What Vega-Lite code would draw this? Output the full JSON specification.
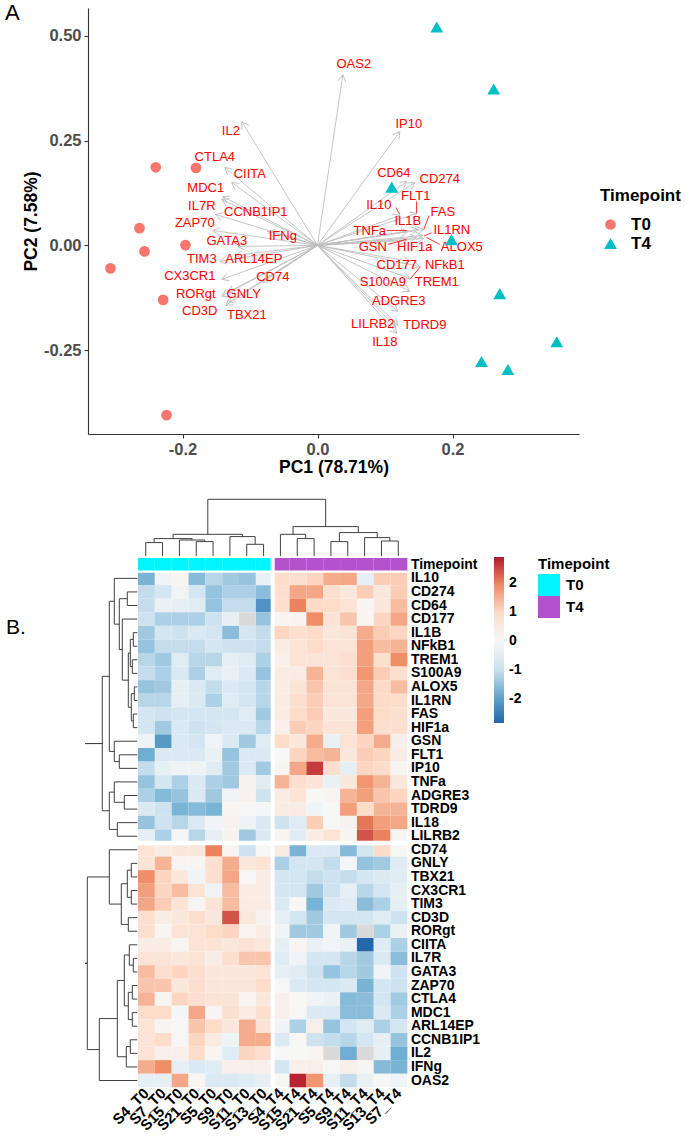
{
"$schema": "https://vega.github.io/schema/vega-lite/v6.json",
"padding": {"left": 5, "top": 2, "right": 0, "bottom": 0},
"autosize": {"type": "pad"},
"config": {
  "font": "Liberation Sans",
  "view": {"stroke": null},
  "locale": {"number": {"decimal": ".", "thousands": ",", "grouping": [3], "currency": ["$", ""], "minus": "-"}}
},
"datasets": {
  "scores": [
    {"tp":"T0","x":-0.2396,"y":0.1864},{"tp":"T0","x":-0.180,"y":0.185},{"tp":"T0","x":-0.2637,"y":0.0412},{"tp":"T0","x":-0.2563,"y":-0.0143},
    {"tp":"T0","x":-0.1956,"y":0.0007},{"tp":"T0","x":-0.3067,"y":-0.0548},{"tp":"T0","x":-0.2287,"y":-0.130},{"tp":"T0","x":-0.2237,"y":-0.405},
    {"tp":"T4","x":0.1767,"y":0.521},{"tp":"T4","x":0.261,"y":0.373},{"tp":"T4","x":0.110,"y":0.139},{"tp":"T4","x":0.1985,"y":0.0135},
    {"tp":"T4","x":0.270,"y":-0.115},{"tp":"T4","x":0.3545,"y":-0.230},{"tp":"T4","x":0.243,"y":-0.277},{"tp":"T4","x":0.282,"y":-0.296}
  ],
  "load": [
    {"g":"IL2","x":-0.1121,"y":0.2952,"tx":-0.1284,"ty":0.2738},
    {"g":"CTLA4","x":-0.1373,"y":0.1857,"tx":-0.1521,"ty":0.2119},
    {"g":"CIITA","x":-0.1270,"y":0.1500,"tx":-0.1003,"ty":0.1714},
    {"g":"MDC1","x":-0.1403,"y":0.1167,"tx":-0.1655,"ty":0.1381},
    {"g":"IL7R","x":-0.1418,"y":0.1095,"tx":-0.1714,"ty":0.0929},
    {"g":"CCNB1IP1","x":-0.1507,"y":0.0738,"tx":-0.0914,"ty":0.0786},
    {"g":"ZAP70","x":-0.1551,"y":0.0357,"tx":-0.1818,"ty":0.0524},
    {"g":"IFNg","x":-0.0736,"y":0.0333,"tx":-0.0514,"ty":0.0214},
    {"g":"GATA3","x":-0.1181,"y":-0.0024,"tx":-0.1344,"ty":0.0095},
    {"g":"TIM3","x":-0.1447,"y":-0.0381,"tx":-0.1714,"ty":-0.0333},
    {"g":"ARL14EP","x":-0.1210,"y":-0.0238,"tx":-0.0944,"ty":-0.0333},
    {"g":"CX3CR1","x":-0.1418,"y":-0.0810,"tx":-0.1892,"ty":-0.0738},
    {"g":"CD74","x":-0.0810,"y":-0.0881,"tx":-0.0662,"ty":-0.0762},
    {"g":"RORgt","x":-0.1418,"y":-0.1214,"tx":-0.1803,"ty":-0.1167},
    {"g":"GNLY","x":-0.1329,"y":-0.1119,"tx":-0.1092,"ty":-0.1167},
    {"g":"CD3D","x":-0.1359,"y":-0.1429,"tx":-0.1744,"ty":-0.1571},
    {"g":"TBX21","x":-0.1314,"y":-0.1357,"tx":-0.1047,"ty":-0.1667},
    {"g":"OAS2","x":0.0375,"y":0.4071,"tx":0.0538,"ty":0.4333},
    {"g":"IP10","x":0.1219,"y":0.2714,"tx":0.1353,"ty":0.2905},
    {"g":"CD64","x":0.1323,"y":0.1524,"tx":0.1130,"ty":0.1738},
    {"g":"CD274","x":0.1441,"y":0.1500,"tx":0.1812,"ty":0.1595},
    {"g":"FLT1","x":0.1471,"y":0.0762,"tx":0.1456,"ty":0.1190},
    {"g":"IL10","x":0.1219,"y":0.0714,"tx":0.0908,"ty":0.0952},
    {"g":"FAS","x":0.1575,"y":0.0381,"tx":0.1856,"ty":0.0786},
    {"g":"IL1B","x":0.1486,"y":0.0381,"tx":0.1338,"ty":0.0571},
    {"g":"IL1RN","x":0.1560,"y":0.0238,"tx":0.1990,"ty":0.0357},
    {"g":"TNFa","x":0.1338,"y":0.0333,"tx":0.0775,"ty":0.0333},
    {"g":"GSN","x":0.1323,"y":0.0119,"tx":0.0819,"ty":-0.0048},
    {"g":"HIF1a","x":0.1471,"y":0.0190,"tx":0.1441,"ty":-0.0048},
    {"g":"ALOX5","x":0.1575,"y":0.0167,"tx":0.2138,"ty":-0.0048},
    {"g":"CD177","x":0.1367,"y":-0.0381,"tx":0.1175,"ty":-0.0476},
    {"g":"NFkB1","x":0.1516,"y":-0.0500,"tx":0.1886,"ty":-0.0476},
    {"g":"S100A9","x":0.1367,"y":-0.0786,"tx":0.0967,"ty":-0.0881},
    {"g":"TREM1","x":0.1367,"y":-0.1095,"tx":0.1767,"ty":-0.0881},
    {"g":"ADGRE3","x":0.1190,"y":-0.1571,"tx":0.1204,"ty":-0.1333},
    {"g":"LILRB2","x":0.1160,"y":-0.1952,"tx":0.0819,"ty":-0.1881},
    {"g":"TDRD9","x":0.1190,"y":-0.1905,"tx":0.1590,"ty":-0.1905},
    {"g":"IL18","x":0.1175,"y":-0.2095,"tx":0.0997,"ty":-0.2310}
  ],
  "lead": [
    {"x":0.1467,"y":0.1048,"x2":0.1467,"y2":0.0771},
    {"x":0.1160,"y":0.0905,"x2":0.1219,"y2":0.0738},
    {"x":0.1654,"y":0.0714,"x2":0.1575,"y2":0.0381},
    {"x":0.1026,"y":0.0357,"x2":0.1323,"y2":0.0357},
    {"x":0.1575,"y":0.0222,"x2":0.1689,"y2":0.0302},
    {"x":0.1043,"y":0.0024,"x2":0.1316,"y2":0.0143},
    {"x":0.1614,"y":0.0190,"x2":0.1812,"y2":0.0024},
    {"x":0.1367,"y":-0.0810,"x2":0.1526,"y2":-0.0507},
    {"x":-0.1245,"y":0.0081,"x2":-0.1145,"y2":-0.0019}
  ],
  "heat": [
    {"g":"IL10","S4_T0":-1.7,"S7_T0":-0.15,"S15_T0":0.15,"S21_T0":-1.6,"S5_T0":-1.15,"S9_T0":-1.35,"S11_T0":-1.45,"S13_T0":-0.3,"S4_T4":0.95,"S15_T4":0.85,"S21_T4":1.05,"S5_T4":1.55,"S9_T4":1.6,"S11_T4":-0.4,"S13_T4":1.15,"S7_T4":1.15},
    {"g":"CD274","S4_T0":-1.05,"S7_T0":-0.85,"S15_T0":-0.15,"S21_T0":-0.85,"S5_T0":-1.45,"S9_T0":-1.25,"S11_T0":-1.25,"S13_T0":-1.55,"S4_T4":0.85,"S15_T4":1.6,"S21_T4":1.6,"S5_T4":0.85,"S9_T4":0.55,"S11_T4":1.15,"S13_T4":0.55,"S7_T4":1.15},
    {"g":"CD64","S4_T0":-1.05,"S7_T0":-0.3,"S15_T0":-0.4,"S21_T0":-0.5,"S5_T0":-1.45,"S9_T0":-1.05,"S11_T0":-1.05,"S13_T0":-2.2,"S4_T4":0.85,"S15_T4":2.0,"S21_T4":0.95,"S5_T4":0.95,"S9_T4":0.7,"S11_T4":0.15,"S13_T4":0.55,"S7_T4":1.35},
    {"g":"CD177","S4_T0":-0.95,"S7_T0":-1.25,"S15_T0":-1.25,"S21_T0":-1.25,"S5_T0":-0.95,"S9_T0":-0.4,"S11_T0":null,"S13_T0":-1.45,"S4_T4":0.15,"S15_T4":0.15,"S21_T4":1.9,"S5_T4":0.7,"S9_T4":1.25,"S11_T4":0.15,"S13_T4":1.05,"S7_T4":1.6},
    {"g":"IL1B","S4_T0":-1.35,"S7_T0":-0.85,"S15_T0":-0.95,"S21_T0":-0.7,"S5_T0":-0.85,"S9_T0":-1.55,"S11_T0":-0.85,"S13_T0":-1.05,"S4_T4":1.05,"S15_T4":0.85,"S21_T4":0.95,"S5_T4":0.55,"S9_T4":0.7,"S11_T4":1.55,"S13_T4":1.15,"S7_T4":1.05},
    {"g":"NFkB1","S4_T0":-1.45,"S7_T0":-1.05,"S15_T0":-1.05,"S21_T0":-1.05,"S5_T0":-0.85,"S9_T0":-0.95,"S11_T0":-0.95,"S13_T0":-1.05,"S4_T4":0.4,"S15_T4":0.7,"S21_T4":0.95,"S5_T4":0.7,"S9_T4":0.7,"S11_T4":1.7,"S13_T4":1.35,"S7_T4":1.45},
    {"g":"TREM1","S4_T0":-1.15,"S7_T0":-1.35,"S15_T0":-0.55,"S21_T0":-1.15,"S5_T0":-1.15,"S9_T0":-0.4,"S11_T0":-0.55,"S13_T0":-1.25,"S4_T4":0.3,"S15_T4":0.7,"S21_T4":0.7,"S5_T4":0.7,"S9_T4":0.85,"S11_T4":1.7,"S13_T4":0.85,"S7_T4":1.9},
    {"g":"S100A9","S4_T0":-1.05,"S7_T0":-1.25,"S15_T0":-0.7,"S21_T0":-1.25,"S5_T0":-0.55,"S9_T0":-0.35,"S11_T0":-0.7,"S13_T0":-1.45,"S4_T4":0.4,"S15_T4":0.4,"S21_T4":1.45,"S5_T4":0.7,"S9_T4":0.85,"S11_T4":1.8,"S13_T4":1.15,"S7_T4":0.85},
    {"g":"ALOX5","S4_T0":-1.45,"S7_T0":-1.35,"S15_T0":-0.4,"S21_T0":-0.7,"S5_T0":-1.05,"S9_T0":-0.7,"S11_T0":-0.85,"S13_T0":-1.15,"S4_T4":0.4,"S15_T4":0.7,"S21_T4":1.25,"S5_T4":0.7,"S9_T4":0.7,"S11_T4":1.6,"S13_T4":0.95,"S7_T4":1.35},
    {"g":"IL1RN","S4_T0":-1.15,"S7_T0":-1.15,"S15_T0":-0.4,"S21_T0":-0.7,"S5_T0":-1.25,"S9_T0":-0.55,"S11_T0":-0.85,"S13_T0":-1.15,"S4_T4":0.4,"S15_T4":0.85,"S21_T4":1.15,"S5_T4":0.7,"S9_T4":0.7,"S11_T4":1.6,"S13_T4":0.95,"S7_T4":0.95},
    {"g":"FAS","S4_T0":-0.85,"S7_T0":-0.95,"S15_T0":-0.85,"S21_T0":-0.85,"S5_T0":-0.85,"S9_T0":-0.85,"S11_T0":-0.55,"S13_T0":-1.35,"S4_T4":0.4,"S15_T4":0.95,"S21_T4":1.15,"S5_T4":0.55,"S9_T4":0.55,"S11_T4":1.7,"S13_T4":0.95,"S7_T4":0.85},
    {"g":"HIF1a","S4_T0":-0.85,"S7_T0":-1.35,"S15_T0":-0.7,"S21_T0":-0.95,"S5_T0":-0.85,"S9_T0":-0.7,"S11_T0":-0.7,"S13_T0":-1.15,"S4_T4":0.3,"S15_T4":1.15,"S21_T4":1.05,"S5_T4":0.7,"S9_T4":0.7,"S11_T4":1.7,"S13_T4":0.85,"S7_T4":0.85},
    {"g":"GSN","S4_T0":-0.2,"S7_T0":-2.1,"S15_T0":-0.7,"S21_T0":-0.85,"S5_T0":-0.15,"S9_T0":-0.7,"S11_T0":-1.35,"S13_T0":-0.55,"S4_T4":0.95,"S15_T4":0.55,"S21_T4":1.55,"S5_T4":-0.3,"S9_T4":0.7,"S11_T4":1.05,"S13_T4":1.55,"S7_T4":0.3},
    {"g":"FLT1","S4_T0":-1.8,"S7_T0":-0.7,"S15_T0":-0.7,"S21_T0":-0.7,"S5_T0":-0.3,"S9_T0":-1.45,"S11_T0":-0.7,"S13_T0":-0.7,"S4_T4":0.05,"S15_T4":1.05,"S21_T4":1.35,"S5_T4":1.45,"S9_T4":0.55,"S11_T4":1.15,"S13_T4":1.05,"S7_T4":0.4},
    {"g":"IP10","S4_T0":-1.05,"S7_T0":-0.4,"S15_T0":-0.2,"S21_T0":-0.2,"S5_T0":-0.55,"S9_T0":-1.35,"S11_T0":-0.7,"S13_T0":-1.35,"S4_T4":0.15,"S15_T4":1.6,"S21_T4":2.6,"S5_T4":0.85,"S9_T4":-0.4,"S11_T4":1.05,"S13_T4":0.95,"S7_T4":0.15},
    {"g":"TNFa","S4_T0":-1.45,"S7_T0":-0.85,"S15_T0":-1.25,"S21_T0":-0.7,"S5_T0":-1.25,"S9_T0":-1.35,"S11_T0":0.2,"S13_T0":-0.55,"S4_T4":1.45,"S15_T4":0.85,"S21_T4":0.7,"S5_T4":-0.3,"S9_T4":0.55,"S11_T4":1.8,"S13_T4":1.45,"S7_T4":0.55},
    {"g":"ADGRE3","S4_T0":-1.25,"S7_T0":-1.6,"S15_T0":-1.45,"S21_T0":-0.7,"S5_T0":-1.35,"S9_T0":-0.15,"S11_T0":0.2,"S13_T0":-0.95,"S4_T4":0.4,"S15_T4":0.7,"S21_T4":0.05,"S5_T4":0.15,"S9_T4":1.45,"S11_T4":1.7,"S13_T4":1.25,"S7_T4":1.05},
    {"g":"TDRD9","S4_T0":-0.7,"S7_T0":-0.95,"S15_T0":-1.7,"S21_T0":-1.6,"S5_T0":-1.7,"S9_T0":0.15,"S11_T0":0.0,"S13_T0":-0.05,"S4_T4":0.4,"S15_T4":0.4,"S21_T4":-0.15,"S5_T4":0.05,"S9_T4":1.7,"S11_T4":0.95,"S13_T4":1.45,"S7_T4":1.45},
    {"g":"IL18","S4_T0":-1.45,"S7_T0":-0.95,"S15_T0":-1.15,"S21_T0":-0.7,"S5_T0":-0.15,"S9_T0":0.2,"S11_T0":-0.2,"S13_T0":-0.7,"S4_T4":-0.95,"S15_T4":-0.55,"S21_T4":1.15,"S5_T4":0.05,"S9_T4":0.2,"S11_T4":2.1,"S13_T4":1.7,"S7_T4":1.6},
    {"g":"LILRB2","S4_T0":-0.4,"S7_T0":-1.25,"S15_T0":-0.05,"S21_T0":-1.15,"S5_T0":-0.4,"S9_T0":0.2,"S11_T0":-1.35,"S13_T0":-0.7,"S4_T4":0.15,"S15_T4":-0.55,"S21_T4":0.4,"S5_T4":0.7,"S9_T4":0.15,"S11_T4":2.4,"S13_T4":2.0,"S7_T4":0.15},
    {"g":"CD74","S4_T0":0.7,"S7_T0":0.4,"S15_T0":0.55,"S21_T0":0.55,"S5_T0":2.0,"S9_T0":0.15,"S11_T0":-0.95,"S13_T0":0.05,"S4_T4":0.4,"S15_T4":-1.7,"S21_T4":-0.7,"S5_T4":-0.7,"S9_T4":-1.6,"S11_T4":-0.85,"S13_T4":0.95,"S7_T4":0.05},
    {"g":"GNLY","S4_T0":0.7,"S7_T0":1.45,"S15_T0":0.15,"S21_T0":0.15,"S5_T0":0.85,"S9_T0":1.55,"S11_T0":0.55,"S13_T0":0.7,"S4_T4":-1.25,"S15_T4":-0.85,"S21_T4":-0.85,"S5_T4":-1.05,"S9_T4":-0.05,"S11_T4":-1.45,"S13_T4":-1.35,"S7_T4":-0.55},
    {"g":"TBX21","S4_T0":1.9,"S7_T0":1.05,"S15_T0":0.55,"S21_T0":-0.15,"S5_T0":0.85,"S9_T0":1.6,"S11_T0":0.0,"S13_T0":0.4,"S4_T4":-0.85,"S15_T4":-0.85,"S21_T4":-1.05,"S5_T4":-0.95,"S9_T4":-1.05,"S11_T4":-0.85,"S13_T4":-0.7,"S7_T4":-0.55},
    {"g":"CX3CR1","S4_T0":1.7,"S7_T0":1.05,"S15_T0":1.35,"S21_T0":0.7,"S5_T0":-0.15,"S9_T0":1.35,"S11_T0":0.4,"S13_T0":0.4,"S4_T4":-0.85,"S15_T4":-0.85,"S21_T4":-1.35,"S5_T4":-0.95,"S9_T4":-0.4,"S11_T4":-1.15,"S13_T4":-0.85,"S7_T4":-0.4},
    {"g":"TIM3","S4_T0":1.6,"S7_T0":1.15,"S15_T0":0.7,"S21_T0":0.15,"S5_T0":0.7,"S9_T0":1.35,"S11_T0":0.4,"S13_T0":0.4,"S4_T4":-0.7,"S15_T4":0.05,"S21_T4":-1.7,"S5_T4":-0.7,"S9_T4":-0.55,"S11_T4":-1.55,"S13_T4":-1.25,"S7_T4":-0.4},
    {"g":"CD3D","S4_T0":0.85,"S7_T0":0.4,"S15_T0":0.55,"S21_T0":0.85,"S5_T0":0.55,"S9_T0":2.4,"S11_T0":0.55,"S13_T0":0.2,"S4_T4":-0.4,"S15_T4":-0.85,"S21_T4":-1.35,"S5_T4":-0.85,"S9_T4":-0.85,"S11_T4":-0.85,"S13_T4":-0.55,"S7_T4":-0.95},
    {"g":"RORgt","S4_T0":0.85,"S7_T0":0.15,"S15_T0":0.7,"S21_T0":0.7,"S5_T0":0.95,"S9_T0":1.05,"S11_T0":0.15,"S13_T0":0.4,"S4_T4":-0.15,"S15_T4":-1.35,"S21_T4":-1.35,"S5_T4":-0.15,"S9_T4":-1.35,"S11_T4":null,"S13_T4":-1.25,"S7_T4":-0.3},
    {"g":"CIITA","S4_T0":0.4,"S7_T0":0.4,"S15_T0":0.15,"S21_T0":0.7,"S5_T0":0.7,"S9_T0":0.55,"S11_T0":0.7,"S13_T0":0.55,"S4_T4":-0.4,"S15_T4":0.15,"S21_T4":-0.3,"S5_T4":-0.15,"S9_T4":-0.3,"S11_T4":-2.8,"S13_T4":-0.55,"S7_T4":-1.25},
    {"g":"IL7R","S4_T0":0.7,"S7_T0":0.7,"S15_T0":0.55,"S21_T0":0.7,"S5_T0":0.4,"S9_T0":0.85,"S11_T0":1.25,"S13_T0":1.25,"S4_T4":-0.55,"S15_T4":-0.15,"S21_T4":-0.85,"S5_T4":-0.85,"S9_T4":-1.15,"S11_T4":-1.35,"S13_T4":-0.7,"S7_T4":-1.55},
    {"g":"GATA3","S4_T0":1.35,"S7_T0":0.85,"S15_T0":1.05,"S21_T0":0.85,"S5_T0":0.55,"S9_T0":0.55,"S11_T0":0.55,"S13_T0":0.7,"S4_T4":-0.4,"S15_T4":-0.55,"S21_T4":-0.95,"S5_T4":-1.45,"S9_T4":-1.15,"S11_T4":-1.35,"S13_T4":-0.15,"S7_T4":-0.95},
    {"g":"ZAP70","S4_T0":1.25,"S7_T0":1.25,"S15_T0":0.55,"S21_T0":0.85,"S5_T0":0.55,"S9_T0":0.55,"S11_T0":0.55,"S13_T0":0.95,"S4_T4":0.0,"S15_T4":-0.7,"S21_T4":-0.85,"S5_T4":-0.85,"S9_T4":-0.7,"S11_T4":-1.7,"S13_T4":-0.85,"S7_T4":-0.95},
    {"g":"CTLA4","S4_T0":1.45,"S7_T0":0.15,"S15_T0":1.05,"S21_T0":0.85,"S5_T0":0.7,"S9_T0":0.7,"S11_T0":0.15,"S13_T0":0.55,"S4_T4":0.3,"S15_T4":0.05,"S21_T4":-0.15,"S5_T4":-0.3,"S9_T4":-1.6,"S11_T4":-1.55,"S13_T4":-0.85,"S7_T4":-1.35},
    {"g":"MDC1","S4_T0":0.95,"S7_T0":0.95,"S15_T0":-0.05,"S21_T0":1.6,"S5_T0":0.15,"S9_T0":0.85,"S11_T0":0.4,"S13_T0":0.85,"S4_T4":0.3,"S15_T4":0.0,"S21_T4":-0.7,"S5_T4":-0.7,"S9_T4":-1.55,"S11_T4":-1.55,"S13_T4":-0.7,"S7_T4":-1.25},
    {"g":"ARL14EP","S4_T0":0.7,"S7_T0":0.15,"S15_T0":0.0,"S21_T0":1.25,"S5_T0":0.95,"S9_T0":0.55,"S11_T0":1.55,"S13_T0":0.7,"S4_T4":-0.15,"S15_T4":-1.25,"S21_T4":0.3,"S5_T4":-1.45,"S9_T4":-0.85,"S11_T4":-0.55,"S13_T4":-1.25,"S7_T4":-0.85},
    {"g":"CCNB1IP1","S4_T0":0.7,"S7_T0":0.95,"S15_T0":0.0,"S21_T0":1.05,"S5_T0":0.4,"S9_T0":-0.2,"S11_T0":1.55,"S13_T0":1.55,"S4_T4":-0.7,"S15_T4":0.05,"S21_T4":-0.95,"S5_T4":-1.05,"S9_T4":-1.15,"S11_T4":-0.85,"S13_T4":-0.4,"S7_T4":-1.45},
    {"g":"IL2","S4_T0":0.7,"S7_T0":0.3,"S15_T0":0.3,"S21_T0":0.95,"S5_T0":0.15,"S9_T0":-0.55,"S11_T0":1.05,"S13_T0":0.85,"S4_T4":0.0,"S15_T4":0.05,"S21_T4":0.15,"S5_T4":null,"S9_T4":-1.8,"S11_T4":null,"S13_T4":-0.4,"S7_T4":-1.8},
    {"g":"IFNg","S4_T0":1.55,"S7_T0":1.9,"S15_T0":-0.4,"S21_T0":-0.7,"S5_T0":-0.55,"S9_T0":0.3,"S11_T0":0.3,"S13_T0":0.3,"S4_T4":-0.85,"S15_T4":0.3,"S21_T4":0.3,"S5_T4":0.0,"S9_T4":0.3,"S11_T4":0.15,"S13_T4":-1.6,"S7_T4":-1.7},
    {"g":"OAS2","S4_T0":-0.4,"S7_T0":-0.4,"S15_T0":1.6,"S21_T0":0.15,"S5_T0":-0.7,"S9_T0":-0.7,"S11_T0":-0.55,"S13_T0":-0.4,"S4_T4":0.05,"S15_T4":2.8,"S21_T4":1.8,"S5_T4":-0.4,"S9_T4":-1.05,"S11_T4":-0.3,"S13_T4":0.05,"S7_T4":-0.15}
  ],
  "anno": [
    {"s":"S4_T0","tp":"T0","ann":"Timepoint"},{"s":"S7_T0","tp":"T0","ann":"Timepoint"},{"s":"S15_T0","tp":"T0","ann":"Timepoint"},{"s":"S21_T0","tp":"T0","ann":"Timepoint"},
    {"s":"S5_T0","tp":"T0","ann":"Timepoint"},{"s":"S9_T0","tp":"T0","ann":"Timepoint"},{"s":"S11_T0","tp":"T0","ann":"Timepoint"},{"s":"S13_T0","tp":"T0","ann":"Timepoint"},
    {"s":"S4_T4","tp":"T4","ann":"Timepoint"},{"s":"S15_T4","tp":"T4","ann":"Timepoint"},{"s":"S21_T4","tp":"T4","ann":"Timepoint"},{"s":"S5_T4","tp":"T4","ann":"Timepoint"},
    {"s":"S9_T4","tp":"T4","ann":"Timepoint"},{"s":"S11_T4","tp":"T4","ann":"Timepoint"},{"s":"S13_T4","tp":"T4","ann":"Timepoint"},{"s":"S7_T4","tp":"T4","ann":"Timepoint"}
  ],
  "vgap": [{"s":"S4_T4"}],
  "hgap": [{"g":"CD74","w":"a"},{"g":"IL10","w":"b"}],
  "coldend": [
    {"a":0.5,"b":1.5,"ha":0,"hb":0,"h":13.4},
    {"a":3.5,"b":4.5,"ha":0,"hb":0,"h":14.4},
    {"a":2.5,"b":4.0,"ha":0,"hb":14.4,"h":16},
    {"a":1.0,"b":3.25,"ha":13.4,"hb":16,"h":17.4},
    {"a":6.5,"b":7.5,"ha":0,"hb":0,"h":11.7},
    {"a":5.5,"b":7.0,"ha":0,"hb":11.7,"h":19.4},
    {"a":2.125,"b":6.25,"ha":17.4,"hb":19.4,"h":21.7},
    {"a":9.5,"b":10.5,"ha":0,"hb":0,"h":17.4},
    {"a":8.5,"b":10.0,"ha":0,"hb":17.4,"h":21.7},
    {"a":11.5,"b":12.5,"ha":0,"hb":0,"h":14.4},
    {"a":14.5,"b":15.5,"ha":0,"hb":0,"h":15},
    {"a":13.5,"b":15.0,"ha":0,"hb":15,"h":18.4},
    {"a":12.0,"b":14.25,"ha":14.4,"hb":18.4,"h":23.4},
    {"a":9.25,"b":13.125,"ha":21.7,"hb":23.4,"h":29.4},
    {"a":4.1875,"b":11.1875,"ha":21.7,"hb":29.4,"h":56.7}
  ],
  "rowdend": [
    {"a":2.5,"b":3.5,"ha":0,"hb":0,"h":10},
    {"a":5.5,"b":6.5,"ha":0,"hb":0,"h":4},
    {"a":7.5,"b":8.5,"ha":0,"hb":0,"h":5},
    {"a":6.0,"b":8.0,"ha":4,"hb":5,"h":7},
    {"a":9.5,"b":10.5,"ha":0,"hb":0,"h":3},
    {"a":11.5,"b":12.5,"ha":0,"hb":0,"h":4},
    {"a":10.0,"b":12.0,"ha":3,"hb":4,"h":6},
    {"a":7.0,"b":11.0,"ha":7,"hb":6,"h":9},
    {"a":4.5,"b":9.0,"ha":0,"hb":9,"h":15},
    {"a":3.0,"b":6.75,"ha":10,"hb":15,"h":18},
    {"a":1.5,"b":4.875,"ha":0,"hb":18,"h":23},
    {"a":14.5,"b":15.5,"ha":0,"hb":0,"h":18},
    {"a":13.5,"b":15.0,"ha":0,"hb":18,"h":23},
    {"a":3.1875,"b":14.25,"ha":23,"hb":23,"h":28},
    {"a":17.5,"b":18.5,"ha":0,"hb":0,"h":13},
    {"a":16.5,"b":18.0,"ha":0,"hb":13,"h":23},
    {"a":19.5,"b":20.5,"ha":0,"hb":0,"h":20},
    {"a":17.25,"b":20.0,"ha":23,"hb":20,"h":28},
    {"a":8.71875,"b":18.625,"ha":28,"hb":28,"h":35},
    {"a":13.672,"b":13.672,"ha":35,"hb":35,"h":52.3},
    {"a":22.5,"b":23.5,"ha":0,"hb":0,"h":6},
    {"a":24.5,"b":25.5,"ha":0,"hb":0,"h":6},
    {"a":23.0,"b":25.0,"ha":6,"hb":6,"h":10},
    {"a":26.5,"b":27.5,"ha":0,"hb":0,"h":9},
    {"a":24.0,"b":27.0,"ha":10,"hb":9,"h":16},
    {"a":21.5,"b":25.5,"ha":0,"hb":16,"h":28},
    {"a":29.5,"b":30.5,"ha":0,"hb":0,"h":4},
    {"a":28.5,"b":30.0,"ha":0,"hb":4,"h":8},
    {"a":31.5,"b":32.5,"ha":0,"hb":0,"h":5},
    {"a":33.5,"b":34.5,"ha":0,"hb":0,"h":5},
    {"a":32.0,"b":34.0,"ha":5,"hb":5,"h":9},
    {"a":29.25,"b":33.0,"ha":8,"hb":9,"h":13},
    {"a":35.5,"b":36.5,"ha":0,"hb":0,"h":7},
    {"a":36.0,"b":37.5,"ha":7,"hb":0,"h":11},
    {"a":31.125,"b":36.75,"ha":13,"hb":11,"h":20},
    {"a":33.9375,"b":38.5,"ha":20,"hb":0,"h":38},
    {"a":23.5,"b":36.21875,"ha":28,"hb":38,"h":50},
    {"a":29.859,"b":29.859,"ha":50,"hb":50,"h":52.3}
  ]
},
"bounds": "flush",
"spacing": 2,
"resolve": {"scale": {"color": "independent", "fill": "independent", "shape": "independent", "size": "independent"}, "legend": {"color": "independent", "fill": "independent", "shape": "independent"}},
"vconcat": [
  {
    "width": 491, "height": 426,
    "layer": [
      {"data": {"name": "scores"}, "mark": {"type": "point", "filled": true, "opacity": 0},
       "encoding": {
         "x": {"field": "x", "type": "quantitative", "scale": {"domain": [-0.34, 0.3874], "nice": false, "zero": false},
               "axis": {"values": [-0.2, 0, 0.2], "format": ".1f", "grid": false, "domainColor": "#333333", "domainWidth": 1.1, "tickColor": "#333333", "tickWidth": 1.1, "tickSize": 4, "labelFontSize": 16.5, "labelFontWeight": "bold", "labelColor": "#4D4D4D", "labelPadding": 3, "title": "PC1 (78.71%)", "titleFontSize": 17.5, "titleFontWeight": "bold", "titleColor": "#000000", "titlePadding": 1}},
         "y": {"field": "y", "type": "quantitative", "scale": {"domain": [-0.45, 0.5664], "nice": false, "zero": false},
               "axis": {"values": [-0.25, 0, 0.25, 0.5], "format": ".2f", "grid": false, "domainColor": "#333333", "domainWidth": 1.1, "tickColor": "#333333", "tickWidth": 1.1, "tickSize": 4, "labelFontSize": 16.5, "labelFontWeight": "bold", "labelColor": "#4D4D4D", "labelPadding": 3, "title": "PC2 (7.58%)", "titleFontSize": 17.5, "titleFontWeight": "bold", "titleColor": "#000000", "titlePadding": 3}}}},
      {"data": {"name": "load"}, "mark": {"type": "rule", "color": "#BEBEBE", "strokeWidth": 0.9},
       "encoding": {
         "x": {"field": "x", "type": "quantitative"},
         "y": {"field": "y", "type": "quantitative"},
         "x2": {"datum": 0}, "y2": {"datum": 0}}},
      {"data": {"name": "load"}, "transform": [{"calculate": "atan2(-datum.y*419.1, datum.x*675.1)*180/PI", "as": "ang"}],
       "mark": {"type": "point", "shape": "M-1,-0.577L0,0L-1,0.577", "filled": false, "stroke": "#BEBEBE", "strokeWidth": 0.9, "size": 180, "opacity": 1},
       "encoding": {"x": {"field": "x", "type": "quantitative"}, "y": {"field": "y", "type": "quantitative"}, "angle": {"field": "ang", "type": "quantitative", "scale": null}}},
      {"data": {"name": "lead"}, "mark": {"type": "rule", "color": "#FF0000", "strokeWidth": 0.8},
       "encoding": {"x": {"field": "x", "type": "quantitative"}, "y": {"field": "y", "type": "quantitative"}, "x2": {"field": "x2"}, "y2": {"field": "y2"}}},
      {"data": {"name": "load"}, "mark": {"type": "text", "color": "#FF0000", "fontSize": 13, "align": "center", "baseline": "middle"},
       "encoding": {"x": {"field": "tx", "type": "quantitative"}, "y": {"field": "ty", "type": "quantitative"}, "text": {"field": "g", "type": "nominal"}}},
      {"data": {"name": "scores"}, "mark": {"type": "point", "filled": true, "opacity": 1, "strokeWidth": 0},
       "encoding": {
         "x": {"field": "x", "type": "quantitative"}, "y": {"field": "y", "type": "quantitative"},
         "color": {"field": "tp", "type": "nominal", "scale": {"domain": ["T0", "T4"], "range": ["#F8766D", "#00BFC4"]},
                   "legend": {"orient": "none", "legendX": 512, "legendY": 180, "title": "Timepoint", "titleFontSize": 17, "titleFontWeight": "bold", "titleColor": "#000000", "labelFontSize": 17, "labelFontWeight": "bold", "labelColor": "#000000", "symbolSize": 140, "symbolOffset": 2, "labelOffset": 12, "rowPadding": 1, "titlePadding": 11}},
         "shape": {"field": "tp", "type": "nominal", "scale": {"domain": ["T0", "T4"], "range": ["circle", "triangle-up"]},
                   "legend": {"orient": "none", "legendX": 512, "legendY": 180, "title": "Timepoint", "titleFontSize": 17, "titleFontWeight": "bold", "titleColor": "#000000", "labelFontSize": 17, "labelFontWeight": "bold", "labelColor": "#000000", "symbolSize": 140, "symbolOffset": 2, "labelOffset": 12, "rowPadding": 1, "titlePadding": 11}},
         "size": {"field": "tp", "type": "nominal", "scale": {"domain": ["T0", "T4"], "range": [115, 165]}, "legend": null}}},
      {"data": {"values": [{}]}, "mark": {"type": "text", "text": "A", "fontSize": 22, "align": "left", "baseline": "alphabetic", "color": "#000000"},
       "encoding": {"x": {"datum": -0.4629, "type": "quantitative"}, "y": {"datum": 0.5367, "type": "quantitative"}}}
    ]
  },
  {
    "width": 318.7, "height": 120,
    "data": {"name": "coldend"},
    "layer": [
      {"mark": {"type": "rule", "color": "#404040", "strokeWidth": 1},
       "encoding": {"x": {"field": "a", "type": "quantitative", "scale": {"domain": [-2.928, 16], "nice": false, "zero": false}, "axis": null}, "x2": {"field": "b"}, "y": {"field": "h", "type": "quantitative", "scale": {"domain": [0, 120], "nice": false}, "axis": null}}},
      {"mark": {"type": "rule", "color": "#404040", "strokeWidth": 1},
       "encoding": {"x": {"field": "a", "type": "quantitative", "axis": null}, "y": {"field": "ha", "type": "quantitative", "axis": null}, "y2": {"field": "h"}}},
      {"mark": {"type": "rule", "color": "#404040", "strokeWidth": 1},
       "encoding": {"x": {"field": "b", "type": "quantitative", "axis": null}, "y": {"field": "hb", "type": "quantitative", "axis": null}, "y2": {"field": "h"}}}
    ]
  },
  {
    "bounds": "flush",
    "spacing": 0,
    "hconcat": [
      {
        "width": 49.3, "height": 529.3,
        "layer": [
          {"data": {"name": "rowdend"}, "mark": {"type": "rule", "color": "#404040", "strokeWidth": 1},
           "encoding": {"x": {"field": "h", "type": "quantitative", "scale": {"domain": [0, 49.3], "nice": false, "zero": false, "reverse": true}, "axis": null}, "y": {"field": "a", "type": "quantitative", "scale": {"domain": [0, 39], "nice": false, "zero": false, "reverse": true}, "axis": null}, "y2": {"field": "b"}}},
          {"data": {"name": "rowdend"}, "mark": {"type": "rule", "color": "#404040", "strokeWidth": 1},
           "encoding": {"x": {"field": "ha", "type": "quantitative", "axis": null}, "x2": {"field": "h"}, "y": {"field": "a", "type": "quantitative", "axis": null}}},
          {"data": {"name": "rowdend"}, "mark": {"type": "rule", "color": "#404040", "strokeWidth": 1},
           "encoding": {"x": {"field": "hb", "type": "quantitative", "axis": null}, "x2": {"field": "h"}, "y": {"field": "b", "type": "quantitative", "axis": null}}},
          {"data": {"values": [{}]}, "mark": {"type": "text", "text": "B.", "fontSize": 21, "align": "left", "baseline": "alphabetic", "color": "#000000"},
           "encoding": {"x": {"datum": 131.3, "type": "quantitative", "axis": null}, "y": {"datum": 5.6, "type": "quantitative", "axis": null}}}
        ]
      },
      {
        "width": 269.4, "height": 529.3,
        "layer": [
          {"data": {"name": "heat"},
           "transform": [{"fold": ["S4_T0","S7_T0","S15_T0","S21_T0","S5_T0","S9_T0","S11_T0","S13_T0","S4_T4","S15_T4","S21_T4","S5_T4","S9_T4","S11_T4","S13_T4","S7_T4"], "as": ["s", "v"]}],
           "mark": {"type": "rect"},
           "encoding": {
             "x": {"field": "s", "type": "nominal", "sort": null,
                   "scale": {"domain": ["S4_T0","S7_T0","S15_T0","S21_T0","S5_T0","S9_T0","S11_T0","S13_T0","S4_T4","S15_T4","S21_T4","S5_T4","S9_T4","S11_T4","S13_T4","S7_T4"], "paddingInner": 0, "paddingOuter": 0},
                   "axis": {"orient": "bottom", "title": null, "ticks": false, "domain": false, "labelAngle": -45, "labelFontSize": 15, "labelFontWeight": "bold", "labelColor": "#000000", "labelPadding": 3, "labelOverlap": false, "labelAlign": "right", "labelBaseline": "middle"}},
             "y": {"field": "g", "type": "nominal", "sort": null,
                   "scale": {"domain": ["Timepoint","IL10","CD274","CD64","CD177","IL1B","NFkB1","TREM1","S100A9","ALOX5","IL1RN","FAS","HIF1a","GSN","FLT1","IP10","TNFa","ADGRE3","TDRD9","IL18","LILRB2","CD74","GNLY","TBX21","CX3CR1","TIM3","CD3D","RORgt","CIITA","IL7R","GATA3","ZAP70","CTLA4","MDC1","ARL14EP","CCNB1IP1","IL2","IFNg","OAS2"], "paddingInner": 0, "paddingOuter": 0},
                   "axis": {"orient": "right", "title": null, "ticks": false, "domain": false, "labelFontSize": 14, "labelFontWeight": "bold", "labelColor": "#000000", "labelPadding": 3, "labelOverlap": false}},
             "color": {"field": "v", "type": "quantitative",
                       "scale": {"type": "linear", "domain": [-2.83, -1.875, -0.92, 0.035, 0.99, 1.945, 2.9], "range": ["#2166AC", "#67A9CF", "#D1E5F0", "#F7F7F7", "#FDDBC7", "#EF8A62", "#B2182B"], "interpolate": "rgb"},
                       "legend": {"orient": "none", "legendX": 406, "legendY": -1, "title": null, "gradientLength": 166, "gradientThickness": 10, "values": [-2, -1, 0, 1, 2], "format": "d", "labelFontSize": 14, "labelFontWeight": "bold", "labelColor": "#000000", "labelOffset": 5, "gradientStrokeWidth": 0, "direction": "vertical"}}
           }},
          {"data": {"name": "heat"},
           "transform": [{"fold": ["S4_T0","S7_T0","S15_T0","S21_T0","S5_T0","S9_T0","S11_T0","S13_T0","S4_T4","S15_T4","S21_T4","S5_T4","S9_T4","S11_T4","S13_T4","S7_T4"], "as": ["s", "v"]}, {"filter": "datum.v === null"}],
           "mark": {"type": "rect", "color": "#DADADA"},
           "encoding": {"x": {"field": "s", "type": "nominal"}, "y": {"field": "g", "type": "nominal"}}},
          {"data": {"name": "anno"}, "mark": {"type": "rect"},
           "encoding": {"x": {"field": "s", "type": "nominal"}, "y": {"field": "ann", "type": "nominal"},
                        "fill": {"field": "tp", "type": "nominal", "scale": {"domain": ["T0", "T4"], "range": ["#00F5FF", "#B452CD"]},
                                 "legend": {"orient": "none", "legendX": 450, "legendY": -1, "title": "Timepoint", "titleFontSize": 15, "titleFontWeight": "bold", "titleColor": "#000000", "symbolType": "square", "symbolSize": 484, "symbolStrokeWidth": 0, "labelFontSize": 15, "labelFontWeight": "bold", "labelColor": "#000000", "labelOffset": 6, "rowPadding": 0, "titlePadding": 2}}}},
          {"data": {"name": "vgap"}, "mark": {"type": "rule", "color": "#FFFFFF", "strokeWidth": 4},
           "encoding": {"x": {"field": "s", "type": "nominal", "bandPosition": 0}}},
          {"data": {"name": "hgap"}, "mark": {"type": "rule", "color": "#FFFFFF"},
           "encoding": {"y": {"field": "g", "type": "nominal", "bandPosition": 0},
                        "strokeWidth": {"field": "w", "type": "nominal", "scale": {"domain": ["a", "b"], "range": [4.3, 2.2]}, "legend": null}}}
        ]
      }
    ]
  }
]
}
